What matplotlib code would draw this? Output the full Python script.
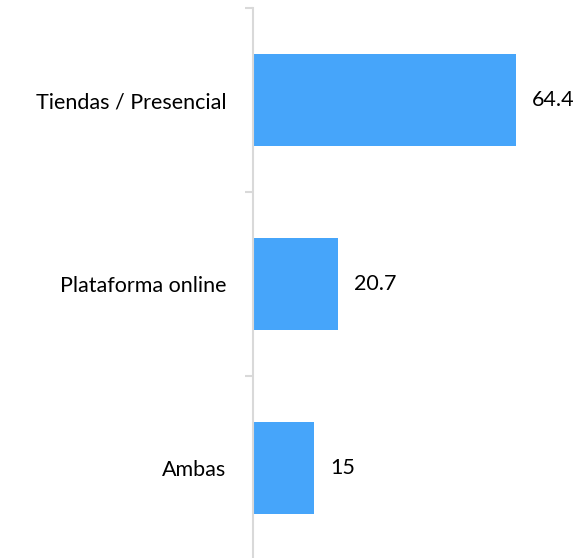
import matplotlib
matplotlib.use("Agg")
import matplotlib.pyplot as plt
from matplotlib.ticker import FixedLocator

categories = ["Tiendas / Presencial", "Plataforma online", "Ambas"]
values = [64.4, 20.7, 15]
value_labels = ["64.4", "20.7", "15"]

plt.rcParams['font.family'] = ['Lato', 'DejaVu Sans']

fig = plt.figure(figsize=(5.82, 5.58), dpi=100)
ax = fig.add_axes([253 / 582, -2 / 558, 1 - 253 / 582, 552 / 558])

pos = list(range(len(categories)))
ax.barh(pos, values, height=0.5, color="#46A5FA")
ax.set_ylim(len(categories) - 0.5, -0.5)
ax.set_xlim(0, 80.5)

for p, v, lab in zip(pos, values, value_labels):
    ax.text(v + 3.9, p, lab, va="center", ha="left", fontsize=15.5, color="#000000")

ax.set_yticks(pos)
ax.set_yticklabels(categories, fontsize=15.5)
ax.tick_params(axis="y", which="major", length=0, pad=19)
ax.yaxis.set_minor_locator(FixedLocator([-0.5, 0.5, 1.5, 2.5]))
ax.tick_params(axis="y", which="minor", length=6, width=1.5, color="#D9D9D9")
ax.set_xticks([])

for s in ["top", "right", "bottom"]:
    ax.spines[s].set_visible(False)
ax.spines["left"].set_color("#D9D9D9")
ax.spines["left"].set_linewidth(1.5)

fig.savefig("out.png", dpi=100)
